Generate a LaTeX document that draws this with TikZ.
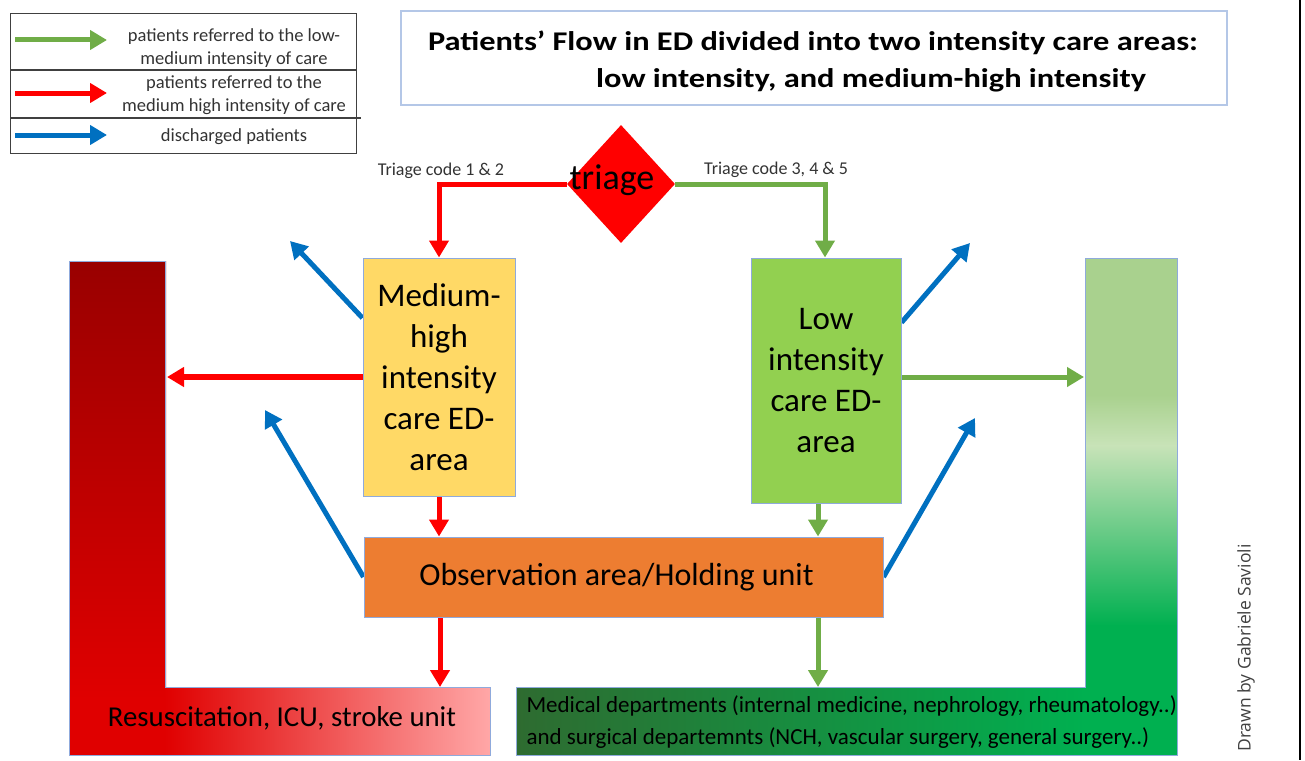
\documentclass[tikz,border=0pt]{standalone}
\usepackage{fontspec}
\setmainfont{Carlito}
\newfontfamily\creditfont{Open Sans}
\usetikzlibrary{positioning, arrows.meta, shapes.geometric, backgrounds, calc}
\definecolor{flowgreen}{HTML}{70AD47}
\definecolor{flowred}{HTML}{FF0000}
\definecolor{flowblue}{HTML}{0070C0}
\definecolor{medyellow}{HTML}{FFD966}
\definecolor{lowgreen}{HTML}{92D050}
\definecolor{obsorange}{HTML}{ED7D31}
\definecolor{edgeblue}{HTML}{8FAADC}
\definecolor{titleedge}{HTML}{B4C7E7}
\definecolor{legendgray}{HTML}{404040}
\definecolor{textgray}{HTML}{333333}
\definecolor{resctop}{HTML}{990000}
\definecolor{rescmid}{HTML}{E00000}
\definecolor{rescpink}{HTML}{FFA7A7}
\definecolor{depttop}{HTML}{A9D18E}
\definecolor{deptpale}{HTML}{C8E3B8}
\definecolor{deptgreen}{HTML}{00B050}
\definecolor{deptdark}{HTML}{2E6B30}

\newcommand{\widetitle}[1]{\scalebox{1.2}[1]{#1}}

\tikzset{
  flow/.style={line width=5pt, -{Triangle[length=17pt,width=19pt]}},
  redflow/.style={flow, draw=flowred},
  greenflow/.style={flow, draw=flowgreen},
  blueflow/.style={flow, draw=flowblue},
  area/.style={draw=edgeblue, line width=1pt, align=center, inner sep=0pt},
  boxtext/.style={font=\fontsize{33}{41}\selectfont},
  legendtext/.style={align=center, text=textgray, font=\fontsize{18.5}{23.5}\selectfont},
  codetext/.style={text=textgray, font=\fontsize{18}{18}\selectfont, anchor=base},
  titletext/.style={font=\bfseries\fontsize{27}{27}\selectfont, anchor=base}
}

\begin{document}
\begin{tikzpicture}[x=1pt, y=-1pt]
        \useasboundingbox (0,0) rectangle (1305,760);

        % Legenda
        \node[draw=legendgray, line width=1.2pt, minimum width=346pt, minimum height=140pt, anchor=north west] (legend) at (10,13) {};
        \draw[legendgray, line width=1.2pt] (10,70) -- (356,70);
        \draw[legendgray, line width=1.2pt] (10,118) -- (361,118);
        \coordinate (key-low-a) at (15,40);  \coordinate (key-low-b) at (107,40);
        \coordinate (key-high-a) at (15,93); \coordinate (key-high-b) at (107,93);
        \coordinate (key-dis-a) at (15,135); \coordinate (key-dis-b) at (107,135);
        \draw[greenflow] (key-low-a) -- (key-low-b);
        \draw[redflow] (key-high-a) -- (key-high-b);
        \draw[blueflow] (key-dis-a) -- (key-dis-b);
        \node[legendtext] (key-low) at (234,48) {patients referred to the low-\\medium intensity of care};
        \node[legendtext] (key-high) at (234,95) {patients referred to the\\medium high intensity of care};
        \node[legendtext] (key-dis) at (234,137) {discharged patients};

        % Titolo
        \node[draw=titleedge, line width=1.5pt, minimum width=826pt, minimum height=94pt] (title) at (814,58) {};
        \node[titletext] (title-a) at (813,51) {\widetitle{Patients’ Flow in ED divided into two intensity care areas:}};
        \node[titletext] (title-b) at (871,87) {\widetitle{low intensity, and medium-high intensity}};

        % Triage
        \node[diamond, fill=flowred, minimum width=108pt, minimum height=118pt, inner sep=0pt, aspect=0.92] (triage) at (621,184) {};
        \node[font=\fontsize{36}{36}\selectfont] (triage-text) at (612,180) {triage};
        \node[codetext] (code-high) at (441,175) {Triage code 1 \& 2};
        \node[codetext] (code-low) at (776,174) {Triage code 3, 4 \& 5};

        % Aree ED
        \node[area, boxtext, fill=medyellow, minimum width=152pt, minimum height=238pt] (medhigh) at (439,377) {Medium-\\high\\intensity\\care ED-\\area};
        \node[area, boxtext, fill=lowgreen, minimum width=150pt, minimum height=245pt] (low) at (826,380.5) {Low\\intensity\\care ED-\\area};
        \node[area, fill=obsorange, minimum width=519pt, minimum height=80pt, font=\fontsize{32}{32}\selectfont] (obs) at (623.5,577) {Observation area/Holding unit\hspace{14pt}};

        % Reparti di destinazione
        \node[font=\fontsize{28.8}{28.8}\selectfont] (resc) at (282,718) {Resuscitation, ICU, stroke unit};
        \node[anchor=west, align=left, font=\fontsize{23}{32}\selectfont] (dept) at (523,722) {Medical departments (internal medicine, nephrology, rheumatology..)\\and surgical departemnts (NCH, vascular surgery, general surgery..)};

        \coordinate (resc-side) at (167,377);
        \coordinate (resc-top) at (440,687);
        \coordinate (dept-side) at (1084,377);
        \coordinate (dept-top) at (818,687);
        \coordinate (low-out) at ([xshift=-8pt]low.south);
        \coordinate (dis-a) at (290,241);
        \coordinate (dis-b) at (265,410);
        \coordinate (dis-c) at (970,243);
        \coordinate (dis-d) at (975,418);

        \begin{scope}[on background layer]
            % Blocco rosso a L
            \shade[top color=resctop, bottom color=rescmid] (69,261) rectangle (166,700);
            \fill[rescmid] (69,699) rectangle (166,755);
            \shade[left color=rescmid, right color=rescpink] (165,687) rectangle (490,755);
            \draw[edgeblue, line width=0.8pt] (69,261) -- (165,261) -- (165,687) -- (490,687) -- (490,755) -- (69,755) -- cycle;

            % Blocco verde a L
            \fill[depttop] (1085,258) rectangle (1177,396);
            \shade[top color=depttop, bottom color=deptpale] (1085,395) rectangle (1177,446);
            \shade[top color=deptpale, bottom color=deptgreen] (1085,445) rectangle (1177,626);
            \fill[deptgreen] (1085,625) rectangle (1177,755);
            \shade[left color=deptdark, right color=deptgreen] (516,687) rectangle (1086,755);
            \draw[edgeblue, line width=0.8pt] (1085,258) -- (1177,258) -- (1177,755) -- (516,755) -- (516,687) -- (1085,687) -- cycle;

            % Flussi
            \draw[redflow] (triage.west) -| (medhigh.north);
            \draw[greenflow] (triage.east) -| ([xshift=-1pt]low.north);
            \draw[redflow, line width=6pt] (medhigh.west |- resc-side) -- (resc-side);
            \draw[redflow] (medhigh.south) -- (medhigh.south |- obs.north);
            \draw[redflow] (obs.south -| resc-top) -- (resc-top);
            \draw[greenflow] (low.east |- dept-side) -- (dept-side);
            \draw[greenflow] (low-out) -- (low-out |- obs.north);
            \draw[greenflow] (obs.south -| dept-top) -- (dept-top);
            \draw[blueflow] ([yshift=59pt]medhigh.west) -- (dis-a);
            \draw[blueflow] (obs.west) -- (dis-b);
            \draw[blueflow] ([yshift=58pt]low.east) -- (dis-c);
            \draw[blueflow] (obs.east) -- (dis-d);
        \end{scope}

        % Firma
        \draw[line width=1.5pt] (1300,0) -- (1300,760);
        \node[rotate=90, text=legendgray, font=\creditfont\fontsize{17.5}{17.5}\selectfont] (credit) at (1246,648) {Drawn by Gabriele Savioli};
    \end{tikzpicture}
\end{document}
